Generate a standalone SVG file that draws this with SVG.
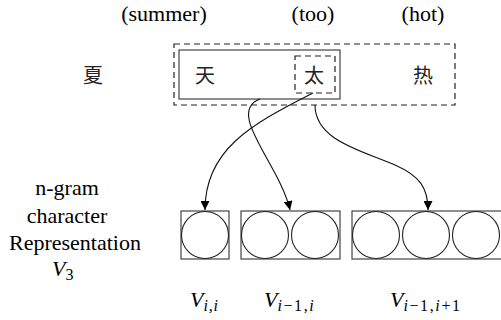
<svg xmlns="http://www.w3.org/2000/svg" width="501" height="320" viewBox="0 0 501 320">
<style>
text{font-family:'Liberation Serif','Times New Roman',serif}
.t{font-size:22px;fill:#000}
.cjk{font-family:'Noto Sans CJK SC',sans-serif;font-size:20px;fill:#222}
.m{font-style:italic;font-size:22px;fill:#000}
.s{font-size:16px;letter-spacing:1.6px}
.box{fill:none;stroke:#444;stroke-width:1.2}
.dash{fill:none;stroke:#222;stroke-width:1.2;stroke-dasharray:6,4}
.c{fill:none;stroke:#222;stroke-width:1.1}
.e{fill:none;stroke:#111;stroke-width:1.1}
</style>
<defs>
<marker id="ah" viewBox="0 0 10 10" refX="10" refY="5" markerWidth="9" markerHeight="9" markerUnits="userSpaceOnUse" orient="auto">
<path d="M0,0 L10,5 L0,10 Z" fill="#000"/>
</marker>
</defs>
<g id="glosses">
<text class="t" x="164" y="21" text-anchor="middle">(summer)</text>
<text class="t" x="313" y="21" text-anchor="middle">(too)</text>
<text class="t" x="423" y="21" text-anchor="middle">(hot)</text>
</g>
<g id="char-xia"><text class="cjk" x="93" y="83" text-anchor="middle">夏</text></g>
<g id="sentence">
<rect class="dash" x="174" y="44" width="281" height="61"/>
<rect class="box" x="179" y="50" width="161" height="49"/>
</g>
<g id="char-tian"><text class="cjk" x="205" y="83" text-anchor="middle">天</text></g>
<g id="char-tai">
<rect class="dash" x="295" y="56" width="40" height="37"/>
<text class="cjk" x="314" y="83" text-anchor="middle">太</text>
</g>
<g id="char-re"><text class="cjk" x="423" y="83" text-anchor="middle">热</text></g>
<g id="label">
<text class="t" x="67" y="195" text-anchor="middle">n-gram</text>
<text class="t" x="67" y="223" text-anchor="middle">character</text>
<text class="t" x="75" y="250" text-anchor="middle">Representation</text>
<text class="m" x="52" y="276">V<tspan class="s" font-style="normal" dy="4">3</tspan></text>
</g>
<g id="v-ii">
<rect class="box" x="181" y="211" width="48" height="48"/>
<circle class="c" cx="205" cy="235" r="23.5"/>
<text class="m" x="190" y="307">V<tspan class="s" dy="4" style="letter-spacing:0.8px">i,i</tspan></text>
</g>
<g id="v-i1i">
<rect class="box" x="241" y="211" width="99" height="48"/>
<circle class="c" cx="265" cy="235" r="23.5"/>
<circle class="c" cx="315" cy="235" r="23.5"/>
<text class="m" x="264" y="307">V<tspan class="s" dy="4">i<tspan font-style="normal">−1,</tspan>i</tspan></text>
</g>
<g id="v-i1i1">
<rect class="box" x="352" y="211" width="152" height="48"/>
<circle class="c" cx="376" cy="235" r="23.5"/>
<circle class="c" cx="426" cy="235" r="23.5"/>
<circle class="c" cx="476" cy="235" r="23.5"/>
<text class="m" x="390" y="307">V<tspan class="s" dy="4">i<tspan font-style="normal">−1,</tspan>i<tspan font-style="normal">+1</tspan></tspan></text>
</g>
<g id="connectors">
<path class="e" d="M260,99 C225,112 280,165 290,210" marker-end="url(#ah)"/>
<path class="e" d="M313,93 C250,125 205,150 205,210" marker-end="url(#ah)"/>
<path class="e" d="M315,105 C315,140 360,150 395,165 C420,176 428,188 428,210" marker-end="url(#ah)"/>
</g>
</svg>
